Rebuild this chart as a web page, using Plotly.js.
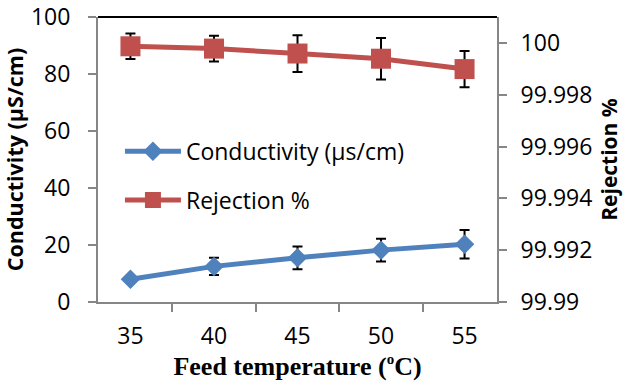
<!DOCTYPE html>
<html>
<head>
<meta charset="utf-8">
<script src="https://cdn.plot.ly/plotly-3.0.1.min.js"></script>
<style>html,body{margin:0;padding:0;background:#fff;}#chart{width:623px;height:383px;}</style>
</head>
<body>
<div id="chart"></div>
<script>
const categories = ["35", "40", "45", "50", "55"];
const conductivity = [8.0, 12.5, 15.5, 18.2, 20.3];
const conductivityErr = [1.0, 3.0, 4.0, 4.0, 5.0];
const rejection = [99.99987, 99.99978, 99.99959, 99.99939, 99.99899];
const rejectionErr = [0.00049, 0.0005, 0.00071, 0.0008, 0.0007];
const rightTickVals = [99.99, 99.992, 99.994, 99.996, 99.998, 100];
const rightTickText = ["99.99", "99.992", "99.994", "99.996", "99.998", "100"];
const leftTickVals = [0, 20, 40, 60, 80, 100];

const tickFont = {family: "Open Sans, sans-serif", size: 23, color: "#000"};
const axisGrey = "#868686";

const traces = [
  {
    x: categories, y: conductivity, name: "Conductivity (µs/cm)", type: "scatter", mode: "lines+markers",
    line: {color: "#4F81BD", width: 5},
    marker: {symbol: "diamond", size: 15, color: "#4F81BD"},
    error_y: {type: "data", array: conductivityErr, visible: true, color: "#000", thickness: 2, width: 5},
    legendgroup: "a", yaxis: "y"
  },
  {
    x: categories, y: rejection, name: "Rejection %", type: "scatter", mode: "lines+markers",
    line: {color: "#C0504D", width: 5},
    marker: {symbol: "square", size: 20, color: "#C0504D"},
    error_y: {type: "data", array: rejectionErr, visible: true, color: "#000", thickness: 2, width: 5},
    legendgroup: "b", yaxis: "y2"
  }
];

const layout = {
  width: 623, height: 383,
  margin: {l: 98, r: 126, t: 17, b: 81, pad: 0},
  paper_bgcolor: "#fff", plot_bgcolor: "#fff",
  showlegend: true,
  legend: {
    x: 0.055, y: 0.443, xanchor: "left", yanchor: "middle",
    font: {family: "Open Sans, sans-serif", size: 23, color: "#000"},
    bgcolor: "rgba(0,0,0,0)", tracegroupgap: 16, itemwidth: 56
  },
  xaxis: {
    type: "category", tickson: "boundaries", ticks: "outside", ticklen: 8, tickwidth: 2, tickcolor: axisGrey,
    showline: true, linecolor: axisGrey, linewidth: 2, showgrid: false, zeroline: false,
    tickfont: tickFont, ticklabelstandoff: 12,
    title: {text: "<b>Feed temperature (<sup><span style='font-size:15px'>o</span></sup>C)</b>", font: {family: "Liberation Serif, Times New Roman, serif", size: 26, color: "#000"}, standoff: 5}
  },
  yaxis: {
    range: [0, 100], tickvals: leftTickVals, ticks: "outside", ticklen: 8, tickwidth: 2, tickcolor: axisGrey,
    showline: true, linecolor: axisGrey, linewidth: 2, showgrid: false, zeroline: false,
    tickfont: tickFont, ticklabelstandoff: 13,
    title: {text: "<b>Conductivity (µS/cm)</b>", font: {family: "Open Sans, sans-serif", size: 21.5, color: "#000"}, standoff: 3}
  },
  yaxis2: {
    overlaying: "y", side: "right", range: [99.99, 100.001],
    tickvals: rightTickVals, ticktext: rightTickText,
    ticks: "outside", ticklen: 8, tickwidth: 2, tickcolor: axisGrey,
    showline: true, linecolor: axisGrey, linewidth: 2, showgrid: false, zeroline: false,
    tickfont: tickFont, ticklabelstandoff: 9,
    title: {text: "<b>Rejection %</b>", font: {family: "Open Sans, sans-serif", size: 21, color: "#000"}, standoff: 13}
  },
  shapes: [
    {type: "line", xref: "paper", yref: "paper", x0: 0, x1: 1, y0: 1, y1: 1, line: {color: "#000", width: 2}}
  ]
};

Plotly.newPlot("chart", traces, layout, {displayModeBar: false, staticPlot: true});
</script>
</body>
</html>
